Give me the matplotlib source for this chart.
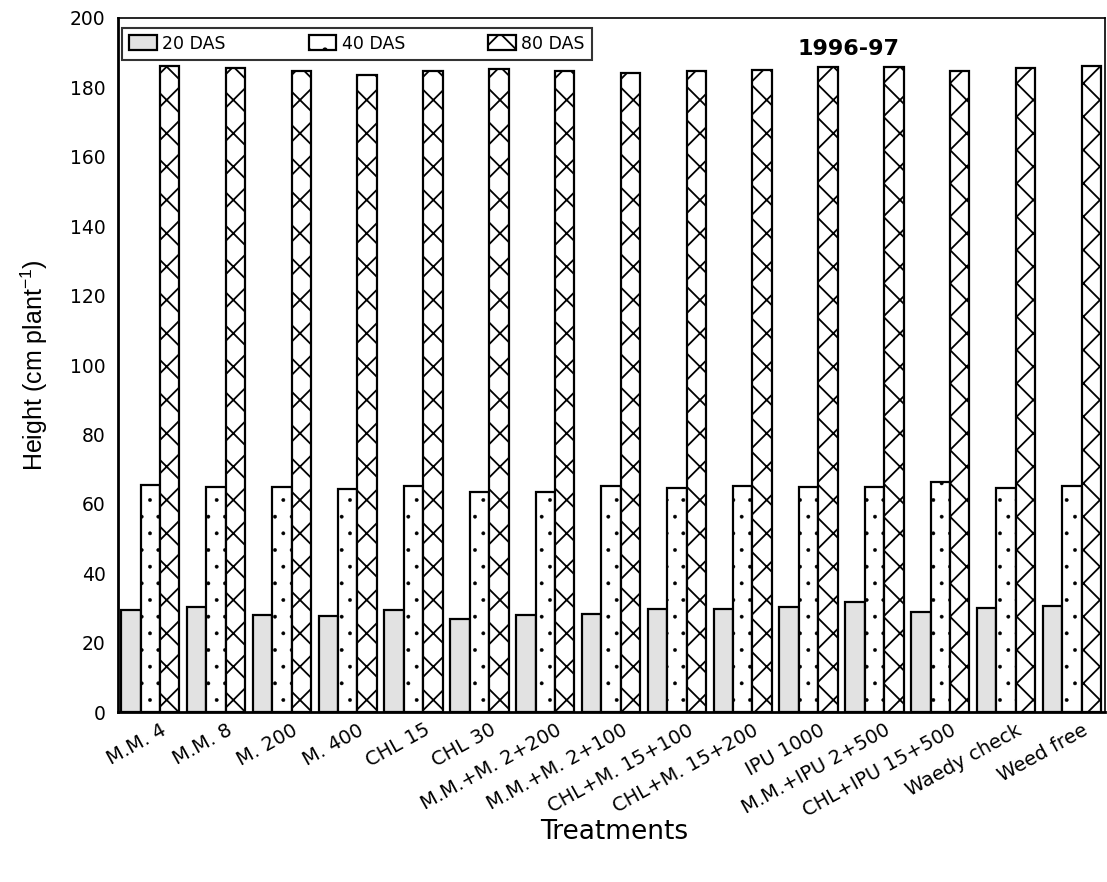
import matplotlib
matplotlib.use("Agg")
import matplotlib.pyplot as plt
import matplotlib.transforms as mtransforms
import numpy as np

categories = ["M.M. 4", "M.M. 8", "M. 200", "M. 400", "CHL 15", "CHL 30",
              "M.M.+M. 2+200", "M.M.+M. 2+100", "CHL+M. 15+100", "CHL+M. 15+200",
              "IPU 1000", "M.M.+IPU 2+500", "CHL+IPU 15+500", "Waedy check", "Weed free"]
das20 = [29.4, 30.4, 28.1, 27.8, 29.4, 26.9, 28.0, 28.2, 29.8, 29.7, 30.2, 31.8, 28.8, 29.9, 30.7]
das40 = [65.4, 64.8, 64.8, 64.3, 65.1, 63.4, 63.4, 65.1, 64.6, 65.1, 64.8, 64.8, 66.3, 64.6, 65.1]
das80 = [186.2, 185.6, 184.7, 183.6, 184.7, 185.3, 184.7, 184.1, 184.7, 185.0, 185.9, 185.9, 184.7, 185.6, 186.2]
series_labels = ["20 DAS", "40 DAS", "80 DAS"]
yticks = [0, 20, 40, 60, 80, 100, 120, 140, 160, 180, 200]

fig = plt.figure(figsize=(11.07, 8.82), dpi=100)
ax = fig.add_axes([0.1066, 0.1927, 0.8914, 0.7869])

x = np.arange(len(categories))
w = 0.295
plt.rcParams['hatch.linewidth'] = 1.0
b1 = ax.bar(x - w, das20, w, facecolor="#e2e2e2", edgecolor="black", linewidth=1.6, label=series_labels[0])
plt.rcParams['hatch.linewidth'] = 0.3
b2 = ax.bar(x, das40, w, facecolor="white", edgecolor="black", linewidth=1.6, hatch=".", label=series_labels[1])
plt.rcParams['hatch.linewidth'] = 1.3
b3 = ax.bar(x + w, das80, w, facecolor="white", edgecolor="black", linewidth=1.6, hatch="x", label=series_labels[2])

ax.set_xlim(-0.49, 14.5)
ax.set_ylim(0, 200)
ax.set_yticks(yticks)
ax.set_yticklabels([str(v) for v in yticks], fontsize=13.5, family="DejaVu Sans")
ax.tick_params(axis="y", length=0, pad=9)
ax.set_xticks(x)
ax.set_xticklabels(categories, rotation=29, ha="right", va="top", rotation_mode="anchor",
                   fontsize=14, family="DejaVu Sans")
ax.tick_params(axis="x", length=0, pad=6)
offset = mtransforms.ScaledTranslation(10 / 100, 0, fig.dpi_scale_trans)
for lbl in ax.get_xticklabels():
    lbl.set_transform(lbl.get_transform() + offset)

for s in ["left", "bottom"]:
    ax.spines[s].set_linewidth(2.0)
ax.spines["top"].set_linewidth(1.2)
ax.spines["right"].set_linewidth(1.2)

ax.set_ylabel("Height (cm plant$^{\\mathregular{-1}}$)", fontsize=18, family="Liberation Sans", labelpad=14)
fig.text(0.555, 0.057, "Treatments", fontsize=19, family="DejaVu Sans", ha="center", va="center")

ax.text(0.74, 0.955, "1996-97", transform=ax.transAxes, fontsize=16, fontweight="bold",
        family="DejaVu Sans", ha="center", va="center")

leg = ax.legend(loc="lower left", bbox_to_anchor=(0.004, 0.94, 0.476, 0.06), mode="expand",
                ncol=3, frameon=True, fancybox=False, edgecolor="black",
                handlelength=1.6, handleheight=0.9, handletextpad=0.3, borderaxespad=0,
                prop={"family": "DejaVu Sans", "size": 12.5})
leg.get_frame().set_linewidth(1.5)

fig.savefig("out.png", dpi=100)
